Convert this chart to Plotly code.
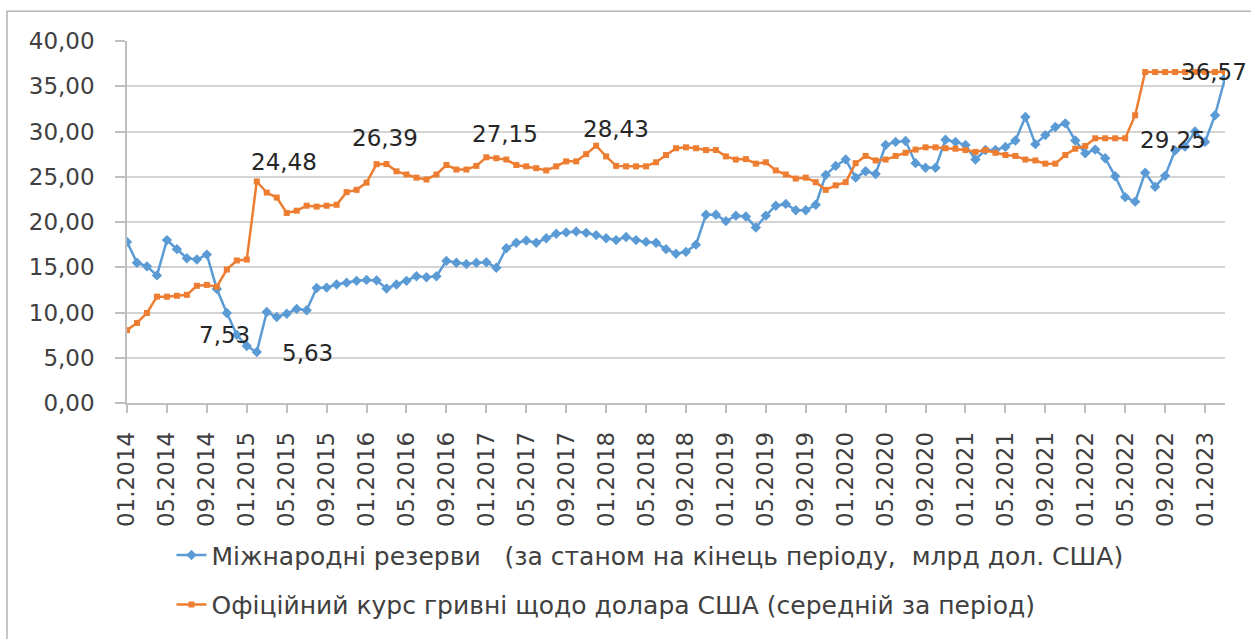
import plotly.graph_objects as go

# Categories: monthly, 01.2014 .. 03.2023
start_year = 2014
n_months = 111
months = [f"{(k % 12) + 1:02d}.{start_year + k // 12}" for k in range(n_months)]
tick_labels = months[::4]

reserves = [
    17.8, 15.5, 15.1, 14.1, 18.0, 17.0, 16.0, 15.85, 16.4, 12.6,
    9.95, 7.53, 6.3, 5.63, 10.05, 9.5, 9.87, 10.4, 10.25, 12.7,
    12.75, 13.1, 13.3, 13.5, 13.6, 13.55, 12.65, 13.1, 13.5, 14.0,
    13.9, 14.0, 15.7, 15.5, 15.35, 15.5, 15.55, 14.95, 17.1, 17.7,
    17.95, 17.7, 18.2, 18.7, 18.85, 18.95, 18.8, 18.55, 18.2, 18.0,
    18.35, 18.0, 17.8, 17.7, 17.0, 16.5, 16.7, 17.5, 20.8, 20.8,
    20.1, 20.7, 20.6, 19.4, 20.7, 21.8, 22.0, 21.3, 21.3, 21.9,
    25.2, 26.2, 26.9, 24.9, 25.6, 25.3, 28.5, 28.85, 28.95, 26.5,
    26.0, 26.0, 29.1, 28.85, 28.5, 26.9, 27.95, 27.95, 28.3, 29.0,
    31.6, 28.6, 29.6, 30.5, 30.9, 29.0, 27.6, 28.0, 27.05, 25.05,
    22.75, 22.25, 25.45, 23.9, 25.1, 27.9, 28.35, 30.0, 28.85, 31.8,
    35.9,
]

uah_usd = [
    8.05, 8.85, 9.95, 11.75, 11.75, 11.85, 11.95, 12.95, 13.05, 12.85,
    14.75, 15.75, 15.85, 24.48, 23.25, 22.7, 21.0, 21.25, 21.8, 21.7,
    21.8, 21.9, 23.3, 23.55, 24.35, 26.39, 26.4, 25.6, 25.25, 24.9,
    24.7, 25.25, 26.3, 25.8, 25.8, 26.2, 27.15, 27.05, 26.9, 26.3,
    26.15, 25.95, 25.7, 26.15, 26.7, 26.7, 27.5, 28.43, 27.25, 26.2,
    26.15, 26.15, 26.15, 26.6, 27.4, 28.15, 28.25, 28.15, 27.95, 27.95,
    27.25, 26.9, 26.95, 26.45, 26.6, 25.7, 25.25, 24.8, 24.9, 24.4,
    23.55, 24.05, 24.4, 26.5, 27.3, 26.8, 26.9, 27.3, 27.65, 28.0,
    28.25, 28.25, 28.15, 28.1, 27.95, 27.75, 27.95, 27.65, 27.4, 27.3,
    26.9, 26.8, 26.45, 26.45, 27.4, 28.1, 28.4, 29.25, 29.25, 29.25,
    29.25, 31.8, 36.57, 36.57, 36.57, 36.57, 36.57, 36.57, 36.57, 36.57,
    36.57,
]

name_reserves = "Міжнародні резерви\u00a0\u00a0\u00a0(за станом на кінець періоду,\u00a0\u00a0млрд дол. США)"
name_rate = "Офіційний курс гривні щодо долара США (середній за період)"

# labelled points: (index, pixel shift x, pixel shift y)
labels_reserves = [(11, -12, 0), (13, 51, -1)]
labels_rate = [(13, 27, 19), (25, 8, 26), (36, 19, 23), (47, 20, 17), (100, 48, -2), (110, -11, 0)]

BLUE = "#5B9BD5"
ORANGE = "#ED7D31"
FONT = "DejaVu Sans"
TXT = "#404040"

fig = go.Figure()
fig.add_trace(go.Scatter(
    x=months, y=reserves, name=name_reserves, mode="lines+markers",
    line=dict(color=BLUE, width=2.5),
    marker=dict(symbol="diamond", size=8, color=BLUE),
    legendgroup="a",
))
fig.add_trace(go.Scatter(
    x=months, y=uah_usd, name=name_rate, mode="lines+markers",
    line=dict(color=ORANGE, width=2.5),
    marker=dict(symbol="square", size=6, color=ORANGE),
    legendgroup="b",
))

def fmt(v):
    return f"{v:.2f}".replace(".", ",")

annotations = []
for series, specs in ((reserves, labels_reserves), (uah_usd, labels_rate)):
    for idx, dx, dy in specs:
        annotations.append(dict(
            x=idx, y=series[idx], xref="x", yref="y",
            text=fmt(series[idx]), showarrow=False,
            xshift=dx, yshift=dy,
            font=dict(family=FONT, size=23, color="#262626"),
        ))

fig.update_layout(
    width=1251, height=639, autosize=False,
    margin=dict(l=127, r=26, t=41, b=232),
    paper_bgcolor="white", plot_bgcolor="white",
    separators=", ",
    font=dict(family=FONT, size=23, color=TXT),
    showlegend=True,
    legend=dict(
        orientation="v", x=0.0405, y=-0.357, xanchor="left", yanchor="top",
        font=dict(family=FONT, size=25, color=TXT),
        tracegroupgap=14, bgcolor="rgba(0,0,0,0)",
    ),
    annotations=annotations,
    shapes=[dict(
        type="rect", xref="paper", yref="paper",
        x0=-0.1093, x1=1.2, y0=-1.0, y1=1.082,
        line=dict(color="#b4b4b4", width=1.5), layer="below",
    )],
)

fig.update_xaxes(
    type="category", range=[0, n_months - 1],
    tickmode="array", tickvals=tick_labels, ticktext=tick_labels,
    tickangle=-90, ticks="outside", ticklen=8, tickcolor="#bfbfbf", tickwidth=1.5,
    showline=True, linecolor="#bfbfbf", linewidth=1.5,
    showgrid=False, zeroline=False,
    tickfont=dict(family=FONT, size=23, color=TXT),
    ticklabelstandoff=10,
)
fig.update_yaxes(
    range=[0, 40], dtick=5, tickformat=".2f",
    ticks="outside", ticklen=10, tickcolor="#bfbfbf", tickwidth=1.5,
    showline=True, linecolor="#bfbfbf", linewidth=1.5,
    showgrid=True, gridcolor="#d4d4d4", gridwidth=1.5, zeroline=False,
    tickfont=dict(family=FONT, size=23, color=TXT),
    ticklabelstandoff=16,
)

fig.write_html(
    "out.html",
    config={"displayModeBar": False},
    post_script="document.body.style.margin='0px';",
)
